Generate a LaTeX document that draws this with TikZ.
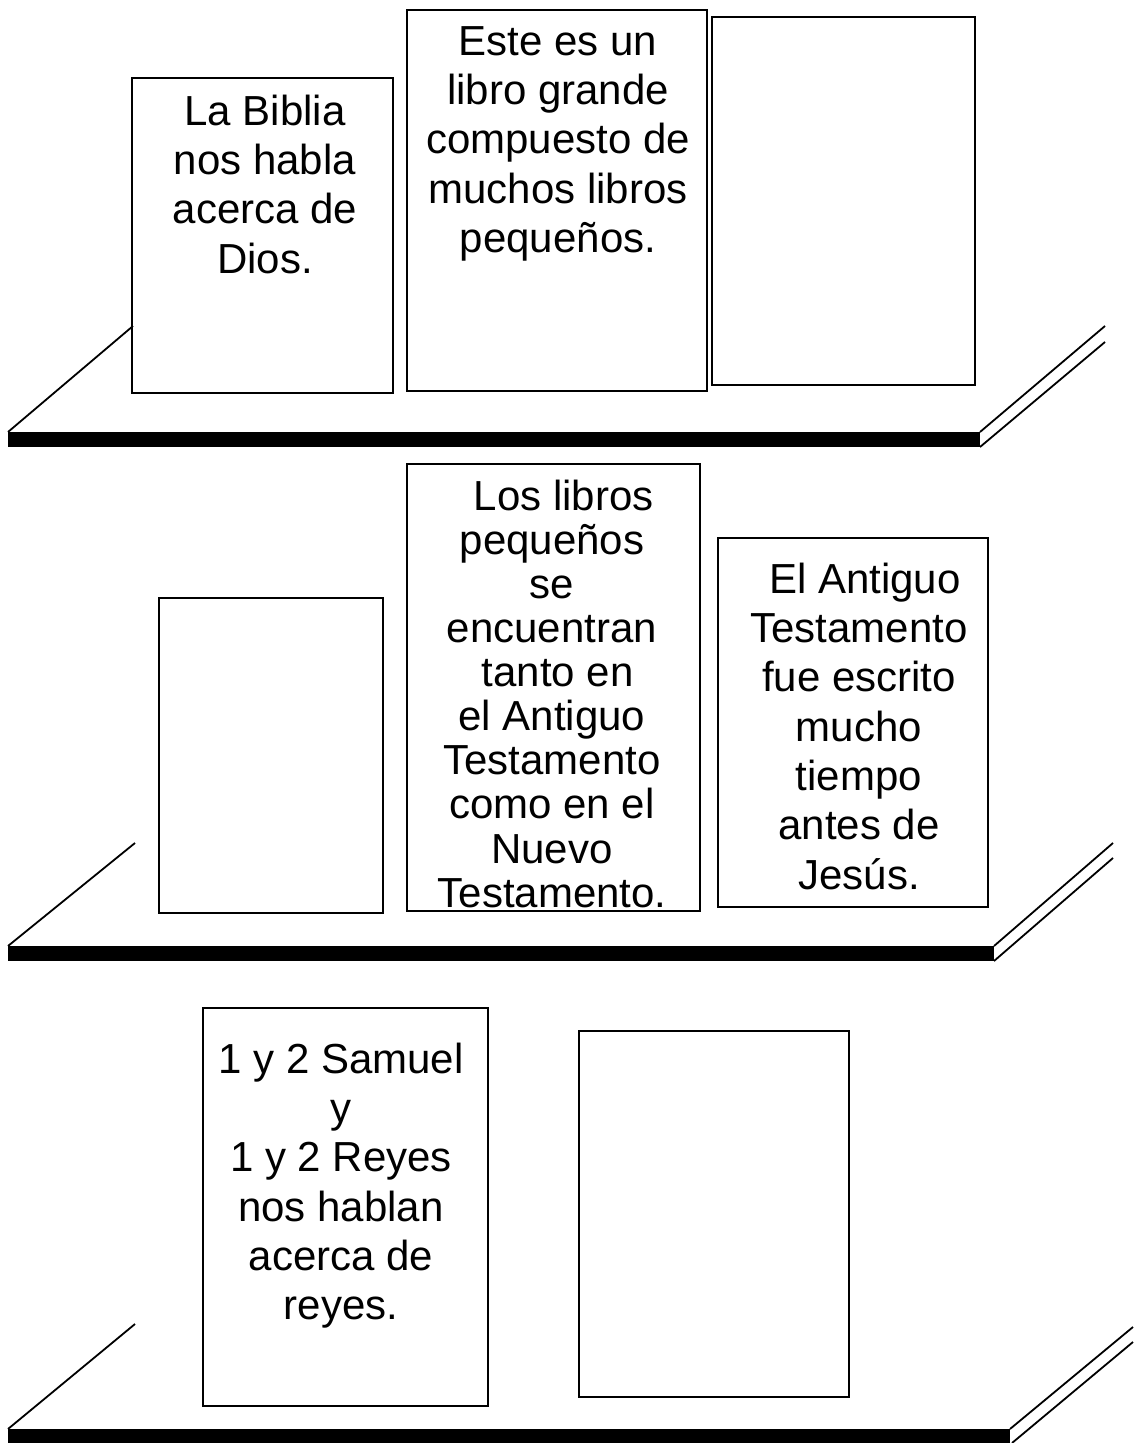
\documentclass[tikz,border=0pt]{standalone}
\usepackage{fontspec}
\setmainfont{Liberation Sans}
\newcommand\bookfontA{\fontsize{42}{49.3}\selectfont\lineskiplimit=-100pt}
\newcommand\bookfontB{\fontsize{42}{44.1}\selectfont\lineskiplimit=-100pt}
\newcommand\firststrut{\rule{0pt}{38pt}}
\tikzset{
  bookbox/.style={draw, line width=2pt, inner sep=0pt},
  booktext/.style={anchor=north, align=center, inner sep=0pt, font=\bookfontA},
  tighttext/.style={booktext, font=\bookfontB},
  shelfline/.style={line width=1.8pt},
  shelfbar/.style={fill=black}
}
\newcommand\mkbook[5]{%
  \node[bookbox, minimum width={(#4-#2)*1pt}, minimum height={(#5-#3)*1pt}]
    (#1) at ({(#2+#4)/2},{(#3+#5)/2}) {};}
\begin{document}
\begin{tikzpicture}[x=1pt,y=-1pt]
\useasboundingbox (0,0) rectangle (1133,1443);

% ---------- shelf 1 ----------
\mkbook{bA}{131.5}{78}{393}{393}
\mkbook{bB}{406.5}{10}{706.5}{391}
\mkbook{bC}{712}{17}{975}{385}
\node[booktext] (tA) at (265,125-38) {\firststrut La Biblia\\nos habla\\acerca de\\Dios.};
\node[booktext] (tB) at (558,55-38) {\firststrut Este es un\\libro grande\\compuesto de\\muchos libros\\pequeños.};
\fill[shelfbar] (8,432) coordinate (s1l) rectangle (980,447) coordinate (s1r);
\coordinate (s1a) at (133,326);
\coordinate (s1b) at (1105,326);
\coordinate (s1c) at (1105,342);
\draw[shelfline] (s1l) -- (s1a);
\draw[shelfline] (980,432) -- (s1b);
\draw[shelfline] (s1r) -- (s1c);

% ---------- shelf 2 ----------
\mkbook{bD}{159}{598}{383}{913}
\mkbook{bE}{407}{464}{699.5}{911}
\mkbook{bF}{718}{537.5}{988}{906.5}
\node[tighttext] (tE) at (552,510-38) {\firststrut \ \ Los libros\\pequeños\\se\\encuentran\\\ tanto en\\el Antiguo\ \\Testamento\\como en el\\Nuevo\\Testamento.};
\node[booktext] (tF) at (859,593-38) {\firststrut \ El Antiguo\\Testamento\\fue escrito\\mucho\\tiempo\\antes de\\Jesús.};
\fill[shelfbar] (8,946) coordinate (s2l) rectangle (994,961) coordinate (s2r);
\coordinate (s2a) at (135,843);
\coordinate (s2b) at (1113,843);
\coordinate (s2c) at (1113,858);
\draw[shelfline] (s2l) -- (s2a);
\draw[shelfline] (994,946) -- (s2b);
\draw[shelfline] (s2r) -- (s2c);

% ---------- shelf 3 ----------
\mkbook{bG}{202.5}{1007.5}{488}{1406}
\mkbook{bH}{579}{1031}{849}{1397}
\node[booktext] (tG) at (341,1073-38) {\firststrut 1 y 2 Samuel\\y\\1 y 2 Reyes\\nos hablan\\acerca de\\reyes.};
\fill[shelfbar] (8,1429) coordinate (s3l) rectangle (1010,1445);
\coordinate (s3r) at (1012,1443);
\coordinate (s3a) at (135,1324);
\coordinate (s3b) at (1133,1327);
\coordinate (s3c) at (1133,1342);
\draw[shelfline] (s3l) -- (s3a);
\draw[shelfline] (1010,1429) -- (s3b);
\draw[shelfline] (s3r) -- (s3c);
\end{tikzpicture}
\end{document}
